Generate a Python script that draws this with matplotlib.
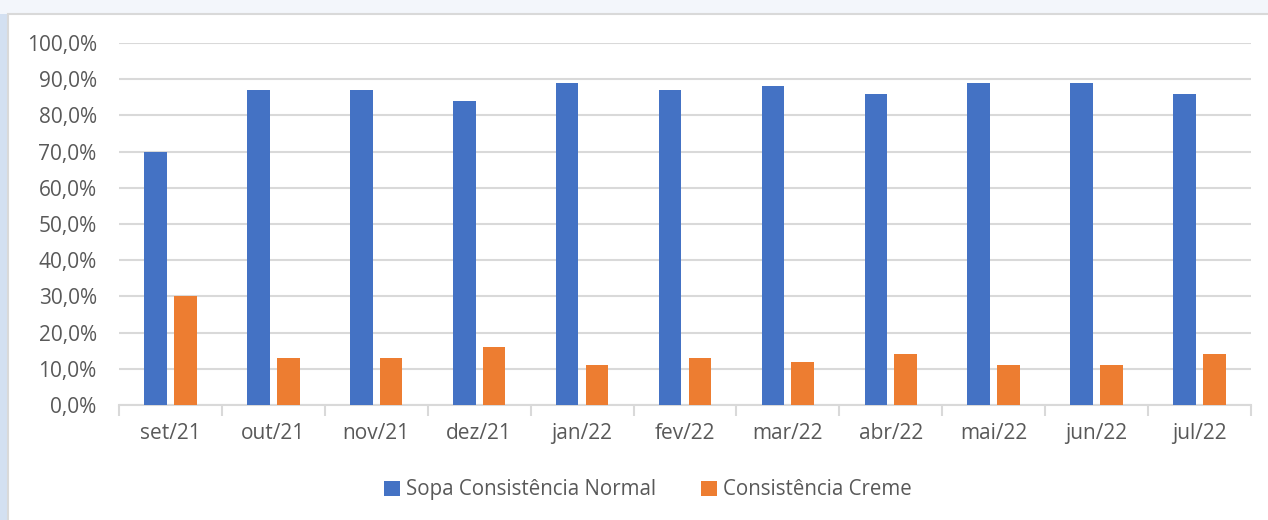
import matplotlib.pyplot as plt
import numpy as np
from matplotlib.patches import Rectangle, Polygon
from matplotlib.ticker import FuncFormatter, FixedLocator

# dados
meses = ["set/21", "out/21", "nov/21", "dez/21", "jan/22", "fev/22",
         "mar/22", "abr/22", "mai/22", "jun/22", "jul/22"]
normal = [70, 87, 87, 84, 89, 87, 88, 86, 89, 89, 86]
creme = [30, 13, 13, 16, 11, 13, 12, 14, 11, 11, 14]

plt.rcParams['font.family'] = ['Open Sans', 'DejaVu Sans']
cor_texto = "#595959"
cor_grade = "#D9D9D9"

fig = plt.figure(figsize=(12.68, 5.2), dpi=100)

# fundo decorativo (faixa azul clara)
fig.patches.append(Polygon([[0, 0], [0.0063, 0], [0.0063, 0.973], [0, 0.973]],
                           closed=True, transform=fig.transFigure,
                           facecolor="#D3E0F1", edgecolor="none", zorder=0))
fig.patches.append(Polygon([[0, 0.973], [1, 0.973], [1, 1], [0, 1]],
                           closed=True, transform=fig.transFigure,
                           facecolor="#F3F6FB", edgecolor="none", zorder=0))
fig.patches.append(Rectangle((0.0063, -0.01), 1.0, 0.983, transform=fig.transFigure,
                             facecolor="white", edgecolor="#D9D9D9", linewidth=1.5,
                             zorder=1))

ax = fig.add_axes([0.0938, 0.2212, 0.8928, 0.6961])
ax.set_zorder(2)
ax.patch.set_alpha(0)

x = np.arange(len(meses))
w = 0.22
d = 0.145
ax.bar(x - d, normal, w, color="#4472C4", label="Sopa Consistência Normal", zorder=3)
ax.bar(x + d, creme, w, color="#ED7D31", label="Consistência Creme", zorder=3)

ax.set_xlim(-0.5, len(meses) - 0.5)
ax.set_ylim(0, 100)
ax.set_yticks(np.arange(0, 101, 10))
ax.yaxis.set_major_formatter(FuncFormatter(lambda v, p: f"{v:.1f}%".replace(".", ",")))
ax.grid(axis="y", color=cor_grade, linewidth=1.5, zorder=0)

ax.set_xticks(x)
ax.set_xticklabels(meses)
ax.xaxis.set_minor_locator(FixedLocator(np.arange(-0.5, len(meses), 1)))
ax.tick_params(axis="x", which="major", length=0, pad=13, labelsize=15, colors=cor_texto)
ax.tick_params(axis="x", which="minor", length=8, width=1.5, color=cor_grade)
ax.tick_params(axis="y", length=0, pad=16, labelsize=15, colors=cor_texto)

for s in ["top", "right", "left"]:
    ax.spines[s].set_visible(False)
ax.spines["bottom"].set_color(cor_grade)
ax.spines["bottom"].set_linewidth(1.5)

leg = fig.legend(loc="center", bbox_to_anchor=(0.511, 0.058), ncol=2, frameon=False,
                 fontsize=14.8, handlelength=0.75, handleheight=0.75, handletextpad=0.3,
                 columnspacing=2.2)
for t in leg.get_texts():
    t.set_color(cor_texto)

fig.savefig("out.png", dpi=100)
